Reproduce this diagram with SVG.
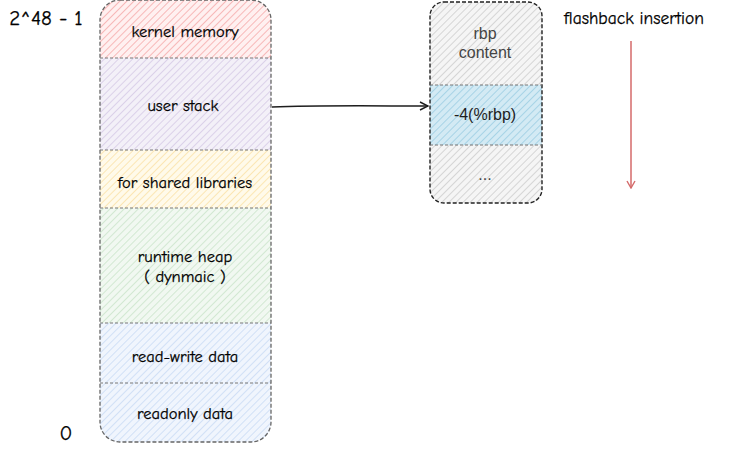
<svg xmlns="http://www.w3.org/2000/svg" width="731" height="451" viewBox="0 0 731 451">
<style>
.hand{font-family:"Comic Neue","Liberation Sans",sans-serif;font-size:16.5px;fill:#000;stroke:#000;stroke-width:0.25;text-anchor:middle}
.big{font-size:17.5px}
.num{font-size:21px}
.sans{font-family:"Liberation Sans",Arial,sans-serif;font-size:16px;fill:#444;text-anchor:middle}
.div{stroke:#777;stroke-width:1;stroke-dasharray:3 2;fill:none}
.outline{fill:none;stroke:#666;stroke-width:1.3;stroke-dasharray:4 2}
.outline2{fill:none;stroke:#222;stroke-width:1.4;stroke-dasharray:4 2}
</style>
<defs>
<pattern id="hRed" patternUnits="userSpaceOnUse" width="5" height="5" patternTransform="rotate(45)"><rect width="5" height="5" fill="#fff0f0"/><line x1="0" y1="0" x2="0" y2="5" stroke="#f5aaaa" stroke-width="1.6"/></pattern>
<pattern id="hPurple" patternUnits="userSpaceOnUse" width="5" height="5" patternTransform="rotate(45)"><rect width="5" height="5" fill="#f3f0f8"/><line x1="0" y1="0" x2="0" y2="5" stroke="#d5c9e6" stroke-width="1.6"/></pattern>
<pattern id="hYellow" patternUnits="userSpaceOnUse" width="5" height="5" patternTransform="rotate(45)"><rect width="5" height="5" fill="#fffaea"/><line x1="0" y1="0" x2="0" y2="5" stroke="#fbe2a6" stroke-width="1.6"/></pattern>
<pattern id="hGreen" patternUnits="userSpaceOnUse" width="5" height="5" patternTransform="rotate(45)"><rect width="5" height="5" fill="#f1f8f1"/><line x1="0" y1="0" x2="0" y2="5" stroke="#cbe4cb" stroke-width="1.6"/></pattern>
<pattern id="hBlue" patternUnits="userSpaceOnUse" width="5" height="5" patternTransform="rotate(45)"><rect width="5" height="5" fill="#f0f5fd"/><line x1="0" y1="0" x2="0" y2="5" stroke="#cadbf5" stroke-width="1.6"/></pattern>
<pattern id="hGrey" patternUnits="userSpaceOnUse" width="5" height="5" patternTransform="rotate(45)"><rect width="5" height="5" fill="#f5f5f5"/><line x1="0" y1="0" x2="0" y2="5" stroke="#c8c8c8" stroke-width="1.4"/></pattern>
<pattern id="hCyan" patternUnits="userSpaceOnUse" width="5" height="5" patternTransform="rotate(45)"><rect width="5" height="5" fill="#d3eaf4"/><line x1="0" y1="0" x2="0" y2="5" stroke="#9ccde3" stroke-width="1.6"/></pattern>
<clipPath id="clipL"><rect x="100" y="0" width="171" height="442" rx="20"/></clipPath>
<clipPath id="clipR"><rect x="430" y="2" width="112" height="201" rx="14"/></clipPath>
<marker id="arrB" markerWidth="10" markerHeight="10" refX="9" refY="5" orient="auto" markerUnits="userSpaceOnUse"><path d="M1,1 L9,5 L1,9" fill="none" stroke="#1e1e1e" stroke-width="1.4"/></marker>
<marker id="arrR" markerWidth="10" markerHeight="10" refX="5" refY="9" orient="0" markerUnits="userSpaceOnUse"><path d="M1,2 L5,9 L9,2" fill="none" stroke="#d46a6a" stroke-width="1.4"/></marker>
</defs>

<text x="46" y="25" class="hand num">2^48 - 1</text>
<text x="66" y="440" class="hand num">0</text>
<text x="634" y="24" class="hand big">flashback insertion</text>

<g id="memory-layout">
<g clip-path="url(#clipL)">
<rect x="100" y="0" width="171" height="58" fill="url(#hRed)"/>
<rect x="100" y="58" width="171" height="92" fill="url(#hPurple)"/>
<rect x="100" y="150" width="171" height="58" fill="url(#hYellow)"/>
<rect x="100" y="208" width="171" height="115" fill="url(#hGreen)"/>
<rect x="100" y="323" width="171" height="60" fill="url(#hBlue)"/>
<rect x="100" y="383" width="171" height="59" fill="url(#hBlue)"/>
</g>
<rect x="100" y="0" width="171" height="442" rx="20" class="outline"/>
<line x1="100" y1="58" x2="271" y2="58" class="div"/>
<line x1="100" y1="150" x2="271" y2="150" class="div"/>
<line x1="100" y1="208" x2="271" y2="208" class="div"/>
<line x1="100" y1="323" x2="271" y2="323" class="div"/>
<line x1="100" y1="383" x2="271" y2="383" class="div"/>
</g>
<g id="kernel-memory"><text x="185" y="37" class="hand">kernel memory</text></g>
<g id="user-stack"><text x="183" y="111" class="hand">user stack</text></g>
<g id="shared-libraries"><text x="185" y="188" class="hand">for shared libraries</text></g>
<g id="runtime-heap"><text x="185" y="262" class="hand">runtime heap</text><text x="185" y="282" class="hand">( dynmaic )</text></g>
<g id="read-write-data"><text x="185" y="362" class="hand">read-write data</text></g>
<g id="readonly-data"><text x="185" y="419" class="hand">readonly data</text></g>

<g id="stack-frame">
<g clip-path="url(#clipR)">
<rect x="430" y="2" width="112" height="83" fill="url(#hGrey)"/>
<rect x="430" y="85" width="112" height="60" fill="url(#hCyan)"/>
<rect x="430" y="145" width="112" height="58" fill="url(#hGrey)"/>
</g>
<rect x="430" y="2" width="112" height="201" rx="14" class="outline2"/>
<line x1="430" y1="85" x2="542" y2="85" class="div" stroke="#333"/>
<line x1="430" y1="145" x2="542" y2="145" class="div" stroke="#333"/>
</g>
<g id="rbp-content"><text x="485" y="39" class="sans">rbp</text><text x="485" y="58" class="sans">content</text></g>
<g id="rbp-minus-4"><text x="485" y="120" class="sans" style="fill:#1e1e1e">-4(%rbp)</text></g>
<g id="more"><text x="485" y="180" class="sans">...</text></g>

<g id="connectors">
<path d="M272,107 C320,105 380,106 428,106" fill="none" stroke="#1e1e1e" stroke-width="1.5" marker-end="url(#arrB)"/>
<line x1="631" y1="41" x2="631" y2="188" stroke="#d46a6a" stroke-width="1.5" marker-end="url(#arrR)"/>
</g>
</svg>
